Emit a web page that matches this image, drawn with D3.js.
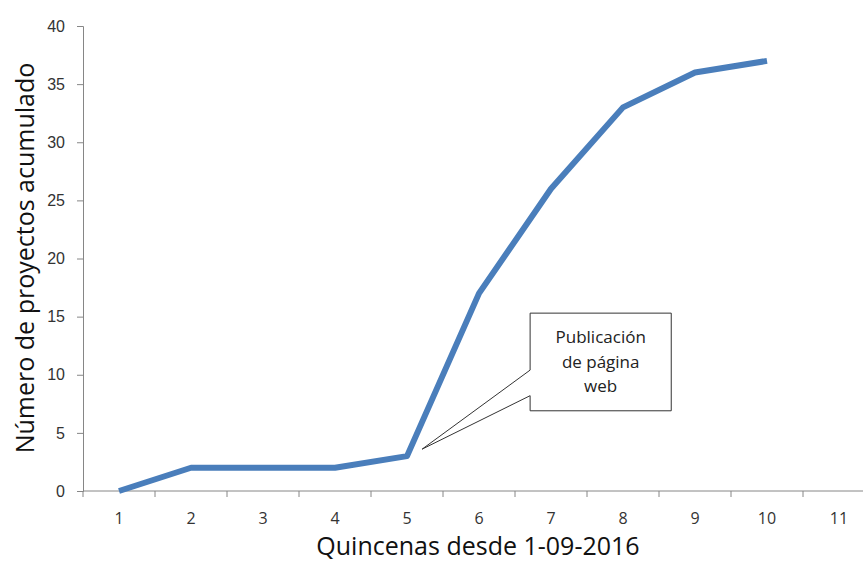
<!DOCTYPE html>
<html>
<head>
<meta charset="utf-8">
<script src="https://cdn.jsdelivr.net/npm/d3@7"></script>
<style>
  body { margin: 0; background: #fff; }
  svg { display: block; font-family: "Open Sans", "Noto Sans", sans-serif; }
</style>
</head>
<body>
<svg id="chart" width="863" height="563"></svg>
<script>
// datos
const quincenas = [1, 2, 3, 4, 5, 6, 7, 8, 9, 10, 11];
const proyectos = [0, 2, 2, 2, 3, 17, 26, 33, 36, 37];
const yTicks = [0, 5, 10, 15, 20, 25, 30, 35, 40];
const notaLineas = ["Publicación", "de página", "web"];

const svg = d3.select("#chart");
const mLeft = 83, mRight = 875, mTop = 26, mBottom = 491;

const x = d3.scalePoint().domain(quincenas).range([mLeft, mRight]).padding(0.5);
const step = x.step();
const y = d3.scaleLinear().domain([0, 40]).range([mBottom, mTop]);
// fractional category position (for the callout)
const fx = v => x(1) + (v - 1) * step;

const axisCol = "#868686";

// y axis
const gy = svg.append("g")
    .attr("transform", `translate(${mLeft},0)`)
    .call(d3.axisLeft(y).tickValues(yTicks).tickSize(6).tickPadding(12));
gy.select(".domain").attr("stroke", axisCol);
gy.selectAll(".tick line").attr("stroke", axisCol);
gy.selectAll(".tick text")
    .attr("fill", "#333")
    .style("font-size", "16px");

// x axis (ticks between categories)
const gx = svg.append("g").attr("transform", `translate(0,${mBottom})`);
gx.append("line")
    .attr("x1", mLeft).attr("x2", mRight)
    .attr("stroke", axisCol);
const bounds = d3.range(quincenas.length + 1).map(i => mLeft + i * step);
gx.selectAll(".tk").data(bounds).enter().append("line")
    .attr("x1", d => d).attr("x2", d => d)
    .attr("y1", 0).attr("y2", 6)
    .attr("stroke", axisCol);
gx.selectAll(".lbl").data(quincenas).enter().append("text")
    .attr("x", d => x(d))
    .attr("y", 33)
    .attr("text-anchor", "middle")
    .attr("fill", "#333")
    .style("font-size", "16px")
    .text(d => d);

// axis titles
svg.append("text")
    .attr("x", 478).attr("y", 555)
    .attr("text-anchor", "middle")
    .attr("fill", "#111")
    .style("font-size", "25px")
    .text("Quincenas desde 1-09-2016");

svg.append("text")
    .attr("transform", "translate(34,258) rotate(-90)")
    .attr("text-anchor", "middle")
    .attr("fill", "#111")
    .style("font-size", "25px")
    .text("Número de proyectos acumulado");

// line
const line = d3.line()
    .x((d, i) => x(quincenas[i]))
    .y(d => y(d));

svg.append("path")
    .datum(proyectos)
    .attr("d", line)
    .attr("fill", "none")
    .attr("stroke", "#4a7ebb")
    .attr("stroke-width", 6)
    .attr("stroke-linejoin", "round");

// callout
const tip = [fx(5.21), y(3.6)];
const bx0 = fx(6.71), bx1 = fx(8.67), by0 = y(15.3), by1 = y(6.9);
const ba = y(10.4), bb = y(8.2);

svg.append("path")
    .attr("d", `M${bx0},${by0} L${bx1},${by0} L${bx1},${by1} L${bx0},${by1} L${bx0},${bb} L${tip[0]},${tip[1]} L${bx0},${ba} Z`)
    .attr("fill", "#fff")
    .attr("stroke", "#333")
    .attr("stroke-width", 1);

svg.append("g").selectAll("text").data(notaLineas).enter().append("text")
    .attr("x", (bx0 + bx1) / 2)
    .attr("y", (d, i) => by0 + 30 + i * 24.5)
    .attr("text-anchor", "middle")
    .attr("fill", "#222")
    .style("font-size", "17px")
    .text(d => d);
</script>
</body>
</html>
